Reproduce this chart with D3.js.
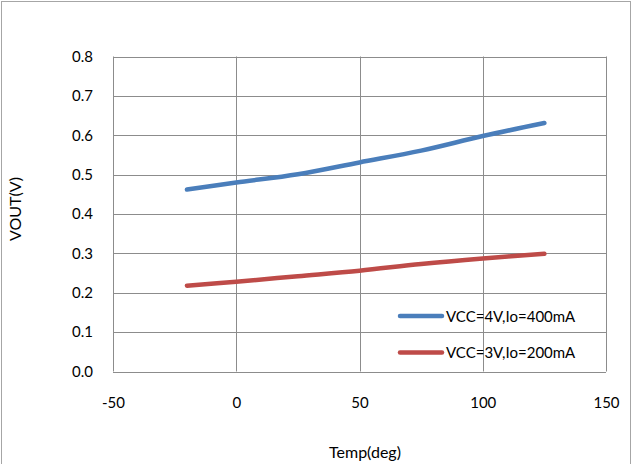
<!DOCTYPE html>
<html>
<head>
<meta charset="utf-8">
<script src="https://cdn.jsdelivr.net/npm/d3@7"></script>
<style>
  html, body { margin: 0; padding: 0; background: #fff; }
  svg { display: block; }
  text { font-family: Lato, "Open Sans", sans-serif; fill: #000; }
</style>
</head>
<body>
<script>
// Output voltage vs. temperature for two supply/load conditions
const temps = [-20, 0, 25, 50, 75, 100, 125];
const vout4V = [0.462, 0.480, 0.501, 0.531, 0.561, 0.598, 0.631];
const vout3V = [0.218, 0.228, 0.242, 0.256, 0.273, 0.287, 0.299];
const seriesNames = ["VCC=4V,Io=400mA", "VCC=3V,Io=200mA"];
const seriesColors = ["#4a7ebb", "#be4b48"];
const xTicks = [-50, 0, 50, 100, 150];
const yTicks = [0, 0.1, 0.2, 0.3, 0.4, 0.5, 0.6, 0.7, 0.8];

const W = 632, H = 464;
const plot = { left: 113, right: 606, top: 56.5, bottom: 371.5 };

const svg = d3.select("body").append("svg").attr("width", W).attr("height", H);

// chart frame
svg.append("rect")
  .attr("x", 1.5).attr("y", 1.5).attr("width", W - 3).attr("height", H + 10)
  .attr("fill", "#fff").attr("stroke", "#a6a6a6").attr("stroke-width", 1);

const x = d3.scaleLinear().domain([-50, 150]).range([plot.left, plot.right]);
const y = d3.scaleLinear().domain([0, 0.8]).range([plot.bottom, plot.top]);

const gridColor = "#8c8c8c";

// gridlines
svg.append("g").selectAll("line").data(yTicks).join("line")
  .attr("x1", plot.left).attr("x2", plot.right)
  .attr("y1", d => Math.round(y(d)) + 0.5).attr("y2", d => Math.round(y(d)) + 0.5)
  .attr("stroke", gridColor).attr("stroke-width", 1);
svg.append("g").selectAll("line").data(xTicks).join("line")
  .attr("y1", plot.top).attr("y2", plot.bottom)
  .attr("x1", d => Math.round(x(d)) + 0.5).attr("x2", d => Math.round(x(d)) + 0.5)
  .attr("stroke", gridColor).attr("stroke-width", 1);

// axis tick labels
const yAxis = d3.axisLeft(y).tickValues(yTicks).tickFormat(d => d.toFixed(1)).tickSize(0).tickPadding(20);
svg.append("g").attr("transform", `translate(${plot.left},0)`).call(yAxis)
  .call(g => g.select(".domain").remove())
  .selectAll("text").attr("font-size", 15).attr("font-family", "Lato, 'Open Sans', sans-serif");

const xAxis = d3.axisBottom(x).tickValues(xTicks).tickFormat(d => String(d)).tickSize(0).tickPadding(26);
svg.append("g").attr("transform", `translate(0,${plot.bottom})`).call(xAxis)
  .call(g => g.select(".domain").remove())
  .selectAll("text").attr("font-size", 15).attr("font-family", "Lato, 'Open Sans', sans-serif");

// axis titles
svg.append("text").attr("x", 365).attr("y", 458).attr("text-anchor", "middle")
  .attr("font-size", 16).text("Temp(deg)");
svg.append("text").attr("transform", "translate(21,209) rotate(-90)").attr("text-anchor", "middle")
  .attr("font-size", 16).text("VOUT(V)");

// series lines
const line = d3.line().x((d, i) => x(temps[i])).y(d => y(d)).curve(d3.curveCatmullRom.alpha(0.5));
[vout4V, vout3V].forEach((vals, k) => {
  svg.append("path").datum(vals)
    .attr("d", line)
    .attr("fill", "none")
    .attr("stroke", seriesColors[k])
    .attr("stroke-width", 4.5)
    .attr("stroke-linecap", "round")
    .attr("stroke-linejoin", "round");
});

// legend
const legendY = [316, 352.5];
seriesNames.forEach((name, k) => {
  svg.append("line")
    .attr("x1", 400).attr("x2", 442)
    .attr("y1", legendY[k]).attr("y2", legendY[k])
    .attr("stroke", seriesColors[k]).attr("stroke-width", 4.5).attr("stroke-linecap", "round");
  svg.append("text").attr("x", 446).attr("y", legendY[k] + 5.5)
    .attr("font-size", 15).text(name);
});
</script>
</body>
</html>
